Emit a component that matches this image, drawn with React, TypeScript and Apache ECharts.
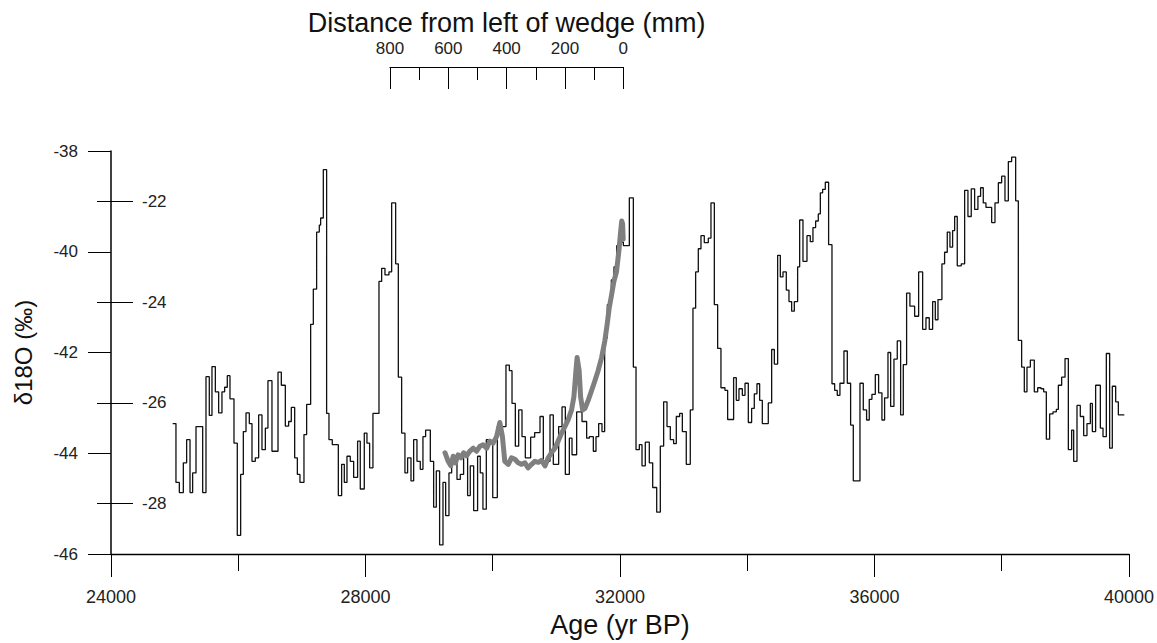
import React, { useEffect, useRef } from "react";
import * as echarts from "echarts";

// Ice-core style record: each value holds from its age until the next age (step)
const ageBP = [
  24969, 25021, 25074, 25137, 25189, 25242, 25283, 25336, 25441, 25493,
  25545, 25587, 25640, 25692, 25744, 25786, 25828, 25870, 25933, 25985,
  26038, 26080, 26122, 26174, 26216, 26268, 26321, 26373, 26426, 26467,
  26530, 26625, 26677, 26740, 26792, 26834, 26887, 26929, 26970, 27033,
  27075, 27138, 27180, 27232, 27274, 27295, 27337,
  27389, 27426, 27478, 27573, 27625, 27667, 27709, 27761, 27814, 27876,
  27918, 27981, 28023, 28065, 28117, 28212, 28254, 28306, 28369, 28411,
  28474, 28516, 28568, 28620, 28662, 28715, 28757, 28809, 28861, 28903,
  28945, 29019, 29071, 29113, 29165, 29218, 29260, 29312, 29354, 29438,
  29490, 29542, 29605, 29647, 29700, 29762, 29804, 29846, 29899, 29941,
  30000, 30072, 30208, 30261, 30303, 30355, 30408, 30460, 30512, 30596,
  30659, 30743, 30795, 30900, 30952, 31036, 31089, 31141, 31204, 31246,
  31319, 31403, 31476, 31518, 31581, 31623, 31665, 31717, 31759, 31801,
  31864, 31906, 31948, 32000, 32053, 32147, 32210, 32252, 32304, 32346,
  32398, 32461, 32514, 32577,
  32634, 32686, 32739, 32791, 32843, 32885, 32938, 32980, 33042, 33105,
  33147, 33189, 33231, 33273, 33325, 33388, 33430, 33483, 33535, 33587,
  33650, 33692, 33786, 33828, 33870, 33923, 33965, 34017, 34069, 34111,
  34153, 34195, 34237, 34331, 34384, 34426, 34478, 34520, 34562, 34614,
  34656, 34698, 34740, 34792, 34824, 34876, 34939, 34991, 35033, 35075,
  35117, 35149, 35185, 35227, 35279,
  35332, 35374, 35415, 35457, 35520, 35573, 35625, 35667, 35772, 35824,
  35876, 35918, 35960, 36013, 36065, 36117, 36159, 36212, 36254, 36306,
  36358, 36411, 36453, 36505, 36557, 36631, 36694, 36757, 36809, 36861,
  36914, 36956, 36998, 37060, 37102, 37144, 37186, 37228, 37260, 37301,
  37364, 37417, 37469, 37521, 37574, 37626, 37668, 37710, 37752,
  37842, 37894, 37947, 37999, 38051, 38104, 38156, 38219, 38261, 38313,
  38355, 38397, 38450, 38512, 38565, 38617, 38659, 38701, 38753, 38806,
  38858, 38890, 38942, 38995, 39047, 39099, 39131, 39183, 39235, 39288,
  39340, 39393, 39424, 39476, 39550, 39592, 39644, 39696, 39738, 39791,
  39833, 39927,
];

const d18O = [
  -43.41, -44.58, -44.78, -44.19, -43.73, -44.78, -44.39, -43.47, -44.78, -42.48,
  -43.25, -42.28, -42.78, -43.2, -42.78, -42.69, -42.46, -42.92, -43.8, -45.63,
  -44.42, -43.57, -43.2, -43.41, -44.16, -44.09, -43.24, -43.93, -43.5, -42.56,
  -43.96, -42.39, -42.65, -43.46, -43.37, -43.09, -44.09, -44.42, -44.58, -43.63,
  -43.03, -41.44, -40.74, -39.61, -39.47, -39.33, -38.37,
  -43.21, -43.73, -43.83, -44.84, -44.22, -44.58, -44.06, -44.16, -44.48, -43.76,
  -44.71, -43.6, -43.8, -44.29, -43.21, -40.59, -40.33, -40.46, -40.4, -39.03,
  -40.24, -42.49, -43.6, -44.39, -44.09, -44.55, -43.73, -44.16, -44.32, -43.67,
  -43.54, -44.16, -45.07, -44.35, -45.82, -44.58, -45.24, -44.39, -44.06, -44.52,
  -44.42, -43.99, -44.84, -44.25, -45.14, -44.06, -44.39, -45.11, -43.73, -43.8,
  -44.88, -43.47, -42.25, -42.36, -43.01, -43.86, -43.14, -43.67, -44.09, -43.68,
  -43.59, -43.27, -44.16, -43.24, -44.22, -43.47, -43.08, -44.42, -43.7, -44.03,
  -43.18, -43.37, -43.7, -43.67, -43.96, -43.67, -43.41, -43.57, -41.71, -41.05,
  -40.56, -40.3, -39.88, -39.81, -39.88, -38.93, -42.29, -43.93, -43.83, -44.25,
  -43.78, -44.19, -44.68, -45.17,
  -43.86, -42.98, -43.47, -43.73, -43.81, -43.27, -43.21, -43.57, -44.22, -43.14,
  -41.12, -40.4, -39.94, -39.68, -39.82, -39.73, -39.03, -41.05, -41.92, -42.7,
  -42.75, -43.33, -42.5, -42.95, -42.72, -42.85, -42.61, -43.39, -43.11, -42.82,
  -42.62, -42.95, -43.41, -43.0, -41.94, -42.23, -40.07, -40.5, -40.4, -40.76,
  -40.99, -41.18, -40.99, -40.3, -39.37, -40.19, -39.68, -39.8, -39.52, -39.39,
  -39.25, -38.83, -38.76, -38.62, -39.86,
  -42.62, -42.75, -42.85, -42.61, -41.97, -42.61, -43.44, -44.55, -42.61, -43.14,
  -43.34, -42.93, -42.83, -42.44, -42.8, -43.34, -42.9, -42.0, -43.07, -42.13,
  -41.77, -43.24, -42.24, -40.82, -41.08, -41.28, -40.4, -41.54, -41.31, -41.54,
  -40.99, -41.35, -40.95, -40.24, -40.01, -39.61, -39.91, -39.58, -39.3, -40.28,
  -40.24, -38.78, -39.3, -38.75, -39.16, -38.9, -38.73, -39.03, -39.12,
  -39.42, -39.03, -38.63, -38.5, -38.99, -38.21, -38.12, -38.99, -41.76, -42.29,
  -42.78, -42.29, -42.15, -42.78, -42.7, -42.72, -42.78, -43.72, -43.22, -43.18,
  -43.13, -42.65, -42.49, -42.12, -43.93, -43.54, -44.16, -43.05, -43.27, -43.65,
  -43.41, -43.01, -43.57, -42.65, -43.5, -43.67, -42.02, -43.9, -42.67, -42.98,
  -43.24, -43.24,
];

// Ice-wedge profile: distance from left of wedge (mm) and its δ18O (inner scale)
const wedgeDistance = [
  611, 600, 591, 583, 575, 566, 556, 547, 537, 526, 514, 503, 491, 480, 468,
  457, 446, 434, 423, 414, 406, 394, 383, 371, 360, 348, 337, 326, 314, 303,
  291, 280, 268, 257, 246, 234, 223, 211, 200, 189, 177, 169, 162, 158, 151,
  146, 139, 131, 120, 108, 97, 86, 74, 63, 55, 48, 40, 32, 23, 14, 9, 5, 2, 0,
];
const wedgeD18O = [
  -26.99, -27.16, -27.25, -27.06, -27.19, -27.03, -27.09, -26.99, -27.05, -26.96, -26.9, -26.96, -26.86, -26.83, -26.9,
  -26.76, -26.8, -26.67, -26.39, -26.67, -27.16, -27.22, -27.09, -27.12, -27.19, -27.22, -27.19, -27.29, -27.22, -27.16,
  -27.18, -27.14, -27.25, -27.09, -26.99, -26.9, -26.76, -26.6, -26.47, -26.34, -26.14, -25.88, -25.36, -25.1, -25.36,
  -25.88, -26.14, -26.11, -25.95, -25.75, -25.56, -25.36, -25.1, -24.77, -24.44, -24.12, -23.86, -23.59, -23.4, -22.94, -22.61, -22.39, -22.45, -22.75,
];

const innerTickValues = [-28, -26, -24, -22];

const FONT = "'Liberation Sans', Arial, Helvetica, sans-serif";

export default function App() {
  const ref = useRef<HTMLDivElement>(null);

  useEffect(() => {
    if (!ref.current) return;
    const chart = echarts.init(ref.current, undefined, { renderer: "svg" });

    const stepData = ageBP.map((a, i) => [a, d18O[i]]);
    const wedgeData = wedgeDistance.map((d, i) => [d, wedgeD18O[i]]);

    const black = "#000";
    const labelColor = "#222";
    const plain = (v: number) => String(v);

    chart.setOption({
      animation: false,
      backgroundColor: "#fff",
      textStyle: { fontFamily: FONT },
      grid: [
        { left: 111, top: 151, width: 1018, height: 408 },
        { left: 390, top: 67, width: 233.3, height: 1 },
      ],
      xAxis: [
        {
          gridIndex: 0,
          type: "value",
          min: 24000,
          max: 40000,
          interval: 4000,
          position: "bottom",
          axisLine: { onZero: false, lineStyle: { color: black, width: 1.3 } },
          axisTick: { length: 23, lineStyle: { color: black, width: 1 } },
          minorTick: { show: true, splitNumber: 2, length: 17, lineStyle: { color: black, width: 1 } },
          splitLine: { show: false },
          minorSplitLine: { show: false },
          axisLabel: { margin: 34, fontSize: 18, color: labelColor, fontFamily: FONT, formatter: plain },
          name: "Age (yr BP)",
          nameLocation: "middle",
          nameGap: 57,
          nameTextStyle: { fontSize: 27, color: "#111", fontFamily: FONT },
        },
        {
          gridIndex: 0,
          type: "value",
          min: -1734,
          max: 1756,
          inverse: true,
          show: false,
          axisLine: { onZero: false },
          splitLine: { show: false },
        },
        {
          gridIndex: 1,
          type: "value",
          min: 0,
          max: 800,
          interval: 200,
          inverse: true,
          position: "top",
          axisLine: { onZero: false, lineStyle: { color: black, width: 1.2 } },
          axisTick: { inside: true, length: 22, lineStyle: { color: black, width: 1 } },
          minorTick: { show: true, splitNumber: 2, length: 13, lineStyle: { color: black, width: 1 } },
          splitLine: { show: false },
          minorSplitLine: { show: false },
          axisLabel: { margin: 10, fontSize: 17, color: labelColor, fontFamily: FONT, formatter: plain },
          name: "Distance from left of wedge (mm)",
          nameLocation: "middle",
          nameGap: 31,
          nameTextStyle: { fontSize: 27, color: "#111", fontFamily: FONT },
        },
      ],
      yAxis: [
        {
          gridIndex: 0,
          type: "value",
          min: -46,
          max: -38,
          interval: 2,
          position: "left",
          axisLine: { show: true, onZero: false, lineStyle: { color: black, width: 1.5 } },
          axisTick: { length: 23, lineStyle: { color: black, width: 1 } },
          splitLine: { show: false },
          axisLabel: { margin: 33, fontSize: 17, color: labelColor, fontFamily: FONT },
          name: "δ18O (‰)",
          nameLocation: "middle",
          nameRotate: 90,
          nameGap: 76,
          nameTextStyle: { fontSize: 24, color: "#111", fontFamily: FONT },
        },
        {
          gridIndex: 0,
          type: "value",
          min: -29,
          max: -21,
          position: "left",
          axisLine: { show: false, onZero: false },
          axisTick: {
            show: true,
            inside: true,
            length: 22,
            customValues: innerTickValues,
            lineStyle: { color: black, width: 1 },
          },
          splitLine: { show: false },
          axisLabel: {
            inside: true,
            margin: 31,
            fontSize: 17,
            color: labelColor,
            fontFamily: FONT,
            customValues: innerTickValues,
          },
        },
        {
          gridIndex: 0,
          type: "value",
          min: -29,
          max: -21,
          position: "left",
          axisLine: { show: false, onZero: false },
          axisTick: {
            show: true,
            length: 14,
            customValues: innerTickValues,
            lineStyle: { color: black, width: 1 },
          },
          splitLine: { show: false },
          axisLabel: { show: false },
        },
        { gridIndex: 1, type: "value", show: false, axisLine: { onZero: false } },
      ],
      series: [
        {
          type: "line",
          name: "record",
          xAxisIndex: 0,
          yAxisIndex: 0,
          step: "end",
          data: stepData,
          symbol: "none",
          lineStyle: { color: "#111", width: 1.3 },
          z: 2,
        },
        {
          type: "line",
          name: "wedge",
          xAxisIndex: 1,
          yAxisIndex: 1,
          data: wedgeData,
          symbol: "none",
          lineStyle: { color: "#7f7f7f", width: 5, join: "round", cap: "round" },
          z: 3,
        },
      ],
    });

    return () => chart.dispose();
  }, []);

  return (
    <div
      ref={ref}
      style={{ position: "fixed", left: 0, top: 0, width: 1157, height: 643, background: "#fff" }}
    />
  );
}
